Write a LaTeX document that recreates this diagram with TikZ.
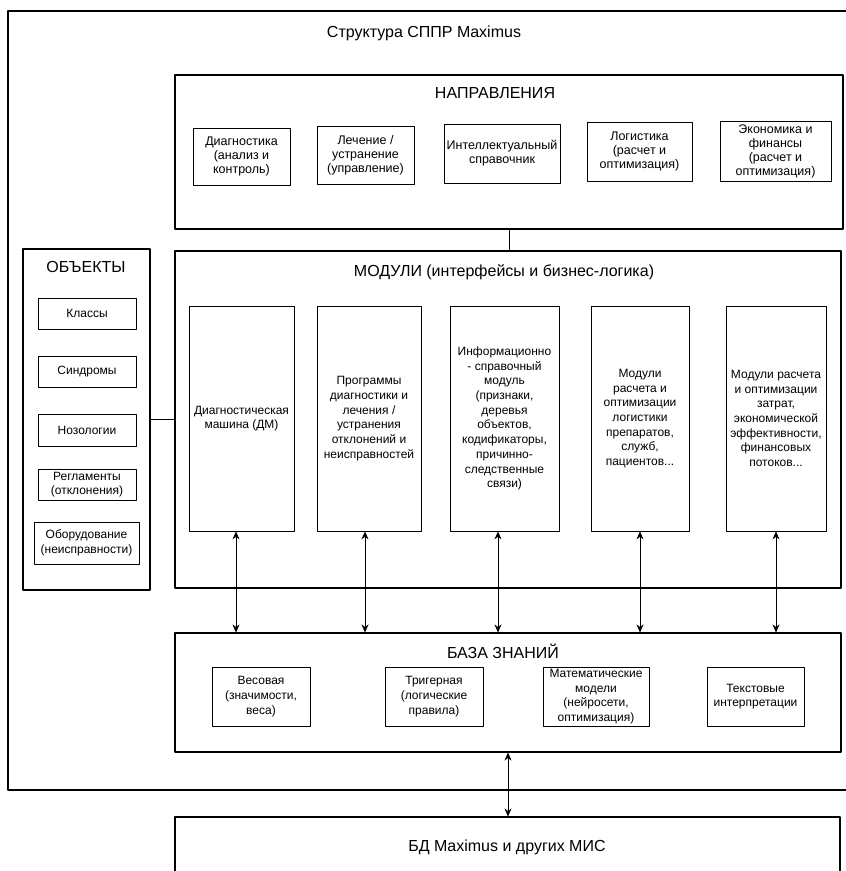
\documentclass[tikz,border=0pt]{standalone}
\usepackage{fontspec}
\setmainfont{Liberation Sans}
\usetikzlibrary{arrows.meta}
\tikzset{
  bigbox/.style={draw, line width=1.1pt, inner sep=0pt},
  box/.style={draw, line width=0.8pt, inner sep=0pt, align=center},
  head/.style={font=\fontsize{16}{19}\selectfont},
  link/.style={line width=0.7pt}
}
\begin{document}
\begin{tikzpicture}[x=1pt, y=-1pt, >={Stealth[length=8pt,width=7pt]}, font=\fontsize{12}{14.7}\selectfont, line join=round, line cap=round]
\useasboundingbox (0,0) rectangle (846,871);
\draw[line width=1.4pt] (8,11) rectangle (880,790);
\node[head] (title) at (424,33) {Структура СППР Maximus};
% Направления
\node[bigbox, minimum width=668pt, minimum height=154pt] (napr) at (509,152) {};
\node[head] (naprT) at (495,93) {НАПРАВЛЕНИЯ};
\begin{scope}[font=\fontsize{12.5}{14}\selectfont]
\node[box, minimum width=97pt, minimum height=57pt] (d1) at (241.5,156.5) {Диагностика\\(анализ и\\контроль)};
\node[box, minimum width=97pt, minimum height=58pt] (d2) at (365.5,155) {Лечение /\\устранение\\(управление)};
\node[box, minimum width=116pt, minimum height=59pt] (d3) at (502,153.5) {Интеллектуальный\\справочник};
\node[box, minimum width=105pt, minimum height=59pt] (d4) at (639.5,151.5) {Логистика\\(расчет и\\оптимизация)};
\node[box, minimum width=111pt, minimum height=60pt] (d5) at (775.5,151) {Экономика и\\финансы\\(расчет и\\оптимизация)};
\end{scope}
% Объекты
\node[bigbox, minimum width=127pt, minimum height=341pt] (obj) at (86.5,419.5) {};
\node[head] (objT) at (86,267) {ОБЪЕКТЫ};
\node[box, minimum width=98pt, minimum height=31pt] (o1) at (87,313.5) {Классы};
\node[box, minimum width=98pt, minimum height=31pt] (o2) at (87,371.5) {Синдромы};
\node[box, minimum width=98pt, minimum height=32pt] (o3) at (87,430) {Нозологии};
\node[box, minimum width=98pt, minimum height=31pt] (o4) at (87,484.5) {Регламенты\\(отклонения)};
\node[box, minimum width=105pt, minimum height=42pt] (o5) at (86.5,543) {Оборудование\\(неисправности)};
% Модули
\node[bigbox, minimum width=666pt, minimum height=337pt] (mod) at (508,419.5) {};
\node[head] (modT) at (504,272) {МОДУЛИ (интерфейсы и бизнес-логика)};
\node[box, minimum width=105pt, minimum height=225pt] (m1) at (241.5,418.5) {Диагностическая\\машина (ДМ)};
\node[box, minimum width=104pt, minimum height=225pt] (m2) at (369,418.5) {Программы\\диагностики и\\лечения /\\устранения\\отклонений и\\неисправностей};
\node[box, minimum width=109pt, minimum height=225pt] (m3) at (504.5,418.5) {Информационно\\- справочный\\модуль\\(признаки,\\деревья\\объектов,\\кодификаторы,\\причинно-\\следственные\\связи)};
\node[box, minimum width=98pt, minimum height=225pt] (m4) at (640,418.5) {Модули\\расчета и\\оптимизации\\логистики\\препаратов,\\служб,\\пациентов...};
\node[box, minimum width=100pt, minimum height=225pt] (m5) at (776,418.5) {Модули расчета\\и оптимизации\\затрат,\\экономической\\эффективности,\\финансовых\\потоков...};
% База знаний
\node[bigbox, minimum width=666pt, minimum height=119pt] (kb) at (508,692.5) {};
\node[head] (kbT) at (503,651) {БАЗА ЗНАНИЙ};
\node[box, minimum width=98pt, minimum height=59pt] (k1) at (261,696.5) {Весовая\\(значимости,\\веса)};
\node[box, minimum width=98pt, minimum height=59pt] (k2) at (434,696.5) {Тригерная\\(логические\\правила)};
\node[box, minimum width=106pt, minimum height=59pt] (k3) at (596,696.5) {Математические\\модели\\(нейросети,\\оптимизация)};
\node[box, minimum width=97pt, minimum height=59pt] (k4) at (755.5,696.5) {Текстовые\\интерпретации};
% БД
\node[bigbox, minimum width=665pt, minimum height=120pt] (db) at (507.5,877) {};
\node[head] (dbT) at (507,847) {БД Maximus и других МИС};
% связи
\draw[link] (napr.south) -- (napr.south |- mod.north);
\draw[link] (obj) -- (mod);
\foreach \m/\x in {m1/236, m2/365, m3/498, m4/640, m5/776}
  \draw[link,<->] (\x,0 |- \m.south) -- (\x,0 |- kb.north);
\draw[link,<->] (kb.south) -- (kb.south |- db.north);
\end{tikzpicture}
\end{document}
